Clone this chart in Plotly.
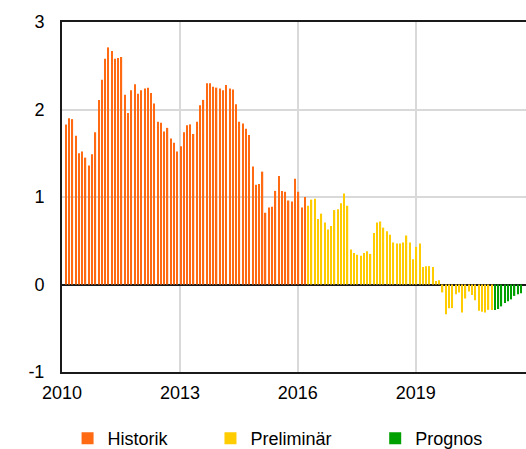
import pandas as pd
import plotly.graph_objects as go

# Monthly values (bar 1 = first month shown)
historik = [1.83, 1.90, 1.89, 1.70, 1.50, 1.52, 1.45, 1.36, 1.49, 1.74,
            2.11, 2.34, 2.58, 2.71, 2.67, 2.58, 2.59, 2.60, 2.17, 1.96,
            2.22, 2.29, 2.18, 2.22, 2.24, 2.25, 2.19, 2.07, 1.86, 1.85,
            1.75, 1.79, 1.67, 1.62, 1.52, 1.58, 1.74, 1.82, 1.83, 1.72,
            1.86, 2.05, 2.11, 2.30, 2.30, 2.26, 2.25, 2.24, 2.22, 2.28,
            2.24, 2.23, 2.06, 1.86, 1.84, 1.78, 1.71, 1.35, 1.14, 1.15,
            1.29, 0.82, 0.88, 0.89, 1.07, 1.24, 1.07, 1.06, 0.96, 0.95,
            1.21, 1.06, 0.88, 1.00]
preliminar = [0.90, 0.97, 0.98, 0.75, 0.81, 0.71, 0.63, 0.67, 0.85, 0.86,
              0.93, 1.04, 0.90, 0.40, 0.36, 0.34, 0.33, 0.36, 0.38, 0.35,
              0.59, 0.71, 0.72, 0.65, 0.61, 0.57, 0.48, 0.47, 0.47, 0.48,
              0.56, 0.48, 0.29, 0.43, 0.47, 0.20, 0.21, 0.21, 0.20, 0.04,
              0.05, -0.09, -0.34, -0.27, -0.27, -0.11, -0.09, -0.32, -0.16, -0.08,
              -0.12, -0.18, -0.30, -0.31, -0.32, -0.29, -0.29]
prognos = [-0.29, -0.28, -0.25, -0.21, -0.19, -0.17, -0.13, -0.11, -0.10]

series_names = ["Historik", "Preliminär", "Prognos"]
series_colors = ["#FF6A13", "#FFCC00", "#00A000"]
year_ticks = ["2010", "2013", "2016", "2019"]
y_ticks = [-1, 0, 1, 2, 3]
y_tick_text = ["-1", "0", "1", "2", "3"]

n_total = len(historik) + len(preliminar) + len(prognos)
months = pd.date_range("2010-02-01", periods=n_total, freq="MS") + pd.Timedelta(days=7)

segments = [historik, preliminar, prognos]
legend_ids = ["legend", "legend2", "legend3"]
fig = go.Figure()
start = 0
bar_w = 12 * 24 * 3600 * 1000
for name, vals, col, lg in zip(series_names, segments, series_colors, legend_ids):
    x = months[start:start + len(vals)]
    start += len(vals)
    fig.add_trace(go.Bar(x=x, y=vals, name=name, legend=lg,
                         marker=dict(color=col, line=dict(width=0)), width=bar_w))

font = dict(family="Liberation Sans, Arial, sans-serif", size=18, color="#000000")

def leg(xpos):
    return dict(orientation="h", x=xpos, xanchor="left", y=-0.19, yanchor="middle",
                font=font, bgcolor="rgba(0,0,0,0)", itemwidth=30)

fig.update_layout(
    width=526, height=449,
    margin=dict(l=62, r=0, t=22, b=77, autoexpand=False),
    paper_bgcolor="white", plot_bgcolor="white",
    barmode="overlay",
    font=font,
    showlegend=True,
    legend=leg(0.012),
    legend2=leg(0.32),
    legend3=leg(0.675),
    xaxis=dict(
        type="date", automargin=False,
        range=["2010-01-01", "2021-10-22"],
        tickvals=[pd.Timestamp(y + "-01-01") for y in year_ticks],
        ticktext=year_ticks,
        showgrid=True, gridcolor="#D9D9D9", gridwidth=2,
        showline=True, linecolor="#1a1a1a", linewidth=2, mirror=True,
        ticks="", tickfont=font, ticklabelstandoff=3,
    ),
    yaxis=dict(
        automargin=False,
        range=[-1, 3], tickvals=y_ticks, ticktext=y_tick_text,
        showgrid=True, gridcolor="#D9D9D9", gridwidth=2,
        zeroline=True, zerolinecolor="#1a1a1a", zerolinewidth=2,
        showline=True, linecolor="#1a1a1a", linewidth=2,
        ticks="", tickfont=font, ticklabelstandoff=12,
    ),
)

# remove the default 8px page margin so the figure fills the window exactly
fig.write_html("out.html",
               config={"displayModeBar": False},
               post_script="document.body.style.margin='0';document.body.style.overflow='hidden';")
